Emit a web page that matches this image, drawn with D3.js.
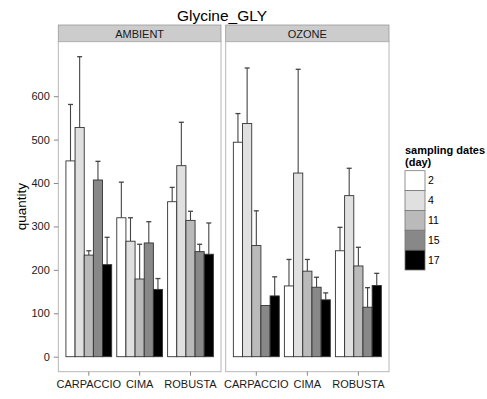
<!DOCTYPE html>
<html><head><meta charset="utf-8">
<script src="https://cdn.jsdelivr.net/npm/d3@7"></script>
<style>body{margin:0;background:#fff}svg{display:block;font-family:"Liberation Sans",Arial,sans-serif}</style>
</head><body><svg id="c" width="487" height="399"></svg>
<script>
const title = "Glycine_GLY";
const panels = ["AMBIENT", "OZONE"];
const varieties = ["CARPACCIO", "CIMA", "ROBUSTA"];
const days = ["2", "4", "11", "15", "17"];
const fills = ["#FFFFFF", "#E0E0E0", "#BABABA", "#888888", "#000000"];
const yTicks = [0, 100, 200, 300, 400, 500, 600];
// mean values [panel][variety][day]
const ambientMean = [[451, 528, 234, 407, 212], [320, 266, 179, 262, 155], [357, 440, 314, 242, 236]];
const ambientUpper = [[581, 691, 244, 450, 275], [402, 320, 259, 311, 180], [390, 540, 335, 259, 308]];
const ozoneMean = [[494, 537, 256, 118, 140], [163, 423, 197, 160, 131], [244, 371, 209, 114, 164]];
const ozoneUpper = [[560, 665, 336, null, 184], [224, 662, 224, 183, 147], [298, 434, 252, 159, 192]];

const means = [ambientMean, ozoneMean];
const uppers = [ambientUpper, ozoneUpper];

const svg = d3.select("#c");
const panelX = [[58.3, 221], [225.7, 389]];
const panelTop = 41.7, panelBottom = 371.7, stripTop = 25;

let maxV = 0;
uppers.forEach((p, pi) => p.forEach((v, vi) => v.forEach((u, di) => { maxV = Math.max(maxV, u == null ? means[pi][vi][di] : u); })));
const y = d3.scaleLinear().domain([-0.05 * maxV, 1.05 * maxV]).range([panelBottom, panelTop]);

svg.append("text").attr("x", 222).attr("y", 21).attr("text-anchor", "middle")
  .attr("font-size", 15.5).attr("fill", "#000").text(title);

const color = d3.scaleOrdinal().domain(days).range(fills);

panels.forEach((pname, pi) => {
  const [x0, x1] = panelX[pi];
  const x = d3.scaleBand().domain(varieties).range([x0, x1]).paddingInner(0.1).paddingOuter(0.15);
  const xi = d3.scaleBand().domain(days).range([0, x.bandwidth()]);
  // strip
  svg.append("rect").attr("x", x0).attr("y", stripTop).attr("width", x1 - x0).attr("height", panelTop - stripTop)
    .attr("fill", "#CCCCCC").attr("stroke", "#9a9a9a").attr("stroke-width", 0.8);
  svg.append("text").attr("x", (x0 + x1) / 2).attr("y", 37.6).attr("text-anchor", "middle")
    .attr("font-size", 11).attr("fill", "#1a1a1a").text(pname);
  // panel bg
  svg.append("rect").attr("x", x0).attr("y", panelTop).attr("width", x1 - x0).attr("height", panelBottom - panelTop)
    .attr("fill", "#fff");
  const g = svg.append("g");
  varieties.forEach((v, vi) => {
    days.forEach((d, di) => {
      const m = means[pi][vi][di], u = uppers[pi][vi][di];
      const bx = x(v) + xi(d);
      const cx = bx + xi.bandwidth() / 2;
      if (u != null) {
        g.append("line").attr("x1", cx).attr("x2", cx).attr("y1", y(m)).attr("y2", y(u))
          .attr("stroke", "#444").attr("stroke-width", 1.1);
        g.append("line").attr("x1", cx - 2.5).attr("x2", cx + 2.5).attr("y1", y(u)).attr("y2", y(u))
          .attr("stroke", "#444").attr("stroke-width", 1.3);
      }
      g.append("rect").attr("x", bx).attr("y", y(m)).attr("width", xi.bandwidth()).attr("height", y(0) - y(m))
        .attr("fill", color(d)).attr("stroke", "#333").attr("stroke-width", 0.9);
    });
  });
  // panel border
  svg.append("rect").attr("x", x0).attr("y", panelTop).attr("width", x1 - x0).attr("height", panelBottom - panelTop)
    .attr("fill", "none").attr("stroke", "#b0b0b0").attr("stroke-width", 0.9);
  // x axis
  const xa = svg.append("g").attr("transform", `translate(0,${panelBottom})`)
    .call(d3.axisBottom(x).tickSize(4).tickPadding(5));
  xa.select(".domain").remove();
  xa.selectAll(".tick line").attr("stroke", "#888");
  xa.selectAll(".tick text").attr("font-size", 11).attr("fill", "#1a1a1a").attr("font-family", "Liberation Sans, Arial, sans-serif");
});

// y axis
const ya = svg.append("g").attr("transform", `translate(${panelX[0][0]},0)`)
  .call(d3.axisLeft(y).tickValues(yTicks).tickSize(4.5).tickPadding(4));
ya.select(".domain").remove();
ya.selectAll(".tick line").attr("stroke", "#888");
ya.selectAll(".tick text").attr("font-size", 11).attr("fill", "#1a1a1a").attr("font-family", "Liberation Sans, Arial, sans-serif");

svg.append("text").attr("transform", `translate(26,${(panelTop + panelBottom) / 2}) rotate(-90)`)
  .attr("text-anchor", "middle").attr("font-size", 13.5).attr("fill", "#000").text("quantity");

// legend
const lg = svg.append("g");
lg.append("text").attr("x", 405).attr("y", 154).attr("font-size", 11).attr("font-weight", "bold").text("sampling dates");
lg.append("text").attr("x", 405).attr("y", 166).attr("font-size", 11).attr("font-weight", "bold").text("(day)");
const ky = d3.scaleBand().domain(days).range([170.7, 270]);
days.forEach(d => {
  lg.append("rect").attr("x", 405).attr("y", ky(d)).attr("width", 20).attr("height", ky.bandwidth())
    .attr("fill", color(d)).attr("stroke", "#777").attr("stroke-width", 0.8);
  lg.append("text").attr("x", 428).attr("y", ky(d) + ky.bandwidth() / 2 + 3.8).attr("font-size", 10.5).text(d);
});
</script></body></html>
